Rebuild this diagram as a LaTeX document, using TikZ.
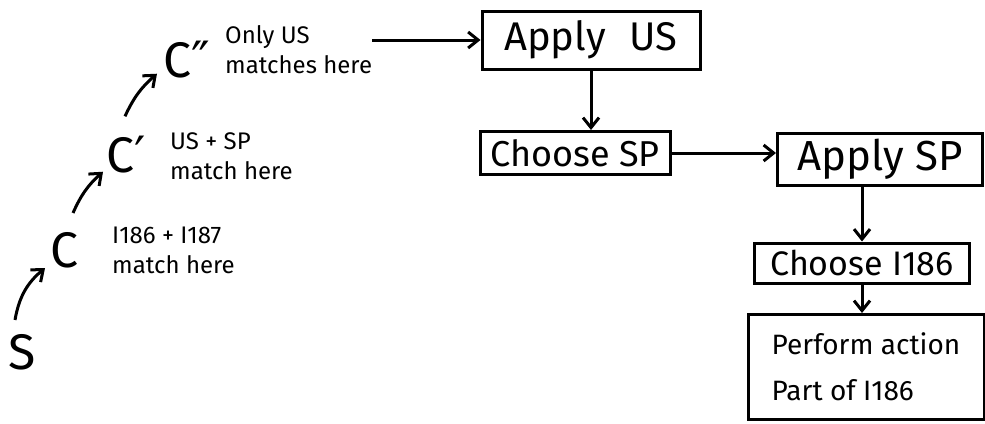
\documentclass[tikz,border=0pt]{standalone}
\usepackage{fontspec}
\setmainfont{Fira Sans}
\newfontfamily\primefont{DejaVu Sans}
\usetikzlibrary{positioning,arrows.meta,calc}
\tikzset{
  stepbox/.style={rectangle, draw=black, line width=3pt, fill=white, text=black,
                  align=center, inner sep=0pt},
  note/.style={align=left, anchor=west, inner sep=0pt,
               font=\fontsize{24}{30}\selectfont},
  letter/.style={inner sep=0pt, anchor=west, font=\fontsize{50}{50}\selectfont},
  flowarr/.style={-{Straight Barb[length=10pt,width=16pt]}, line width=3pt},
}

\begin{document}
\begin{tikzpicture}[x=1pt, y=-1pt]
\useasboundingbox (0,0) rectangle (985,423);
% the chain of states on the left
\node[letter] (s) at (8,352) {S};
\node[letter] (c) at (50,250) {C};
\node[letter] (cp) at (106,155) {C{\primefont ′}};
\node[letter] (cpp) at (163,60) {C{\primefont ″}};
\node[note] (cnote) at (112,250) {I186 + I187\\match here};
\node[note] (cpnote) at (170,156) {US + SP\\match here};
\node[note] (cppnote) at (225,50) {Only US\\matches here};
\draw[flowarr] ($(s.north west)+(7,-14)$) to[bend left=20] ($(c.south west)+(-5,0)$);
\draw[flowarr] ($(c.north west)+(23,-19)$) to[bend left=12] ($(cp.south west)+(-3,-2)$);
\draw[flowarr] ($(cp.north west)+(19,-20)$) to[bend left=12] ($(cpp.south west)+(-6,-5)$);
% the boxes on the right
\node[stepbox, minimum width=218pt, minimum height=58pt,
      font=\fontsize{40}{40}\selectfont] (applyus) at (591,40) {Apply\hspace{0.6em}US};
\node[stepbox, minimum width=190pt, minimum height=43pt,
      font=\fontsize{36}{36}\selectfont] (choosesp) at (575,153) {Choose SP};
\node[stepbox, minimum width=205pt, minimum height=52pt,
      font=\fontsize{42}{42}\selectfont] (applysp) at (880,159) {Apply SP};
\node[stepbox, minimum width=215pt, minimum height=40pt,
      font=\fontsize{34}{34}\selectfont] (choosei) at (862,263) {Choose I186};
\node[stepbox, minimum width=236pt, minimum height=105pt, align=left,
      font=\fontsize{28}{46}\selectfont] (perform) at (866,367) {Perform action\\Part of I186};
\draw[flowarr] (cppnote.east |- applyus) -- (applyus.west);
\draw[flowarr] (applyus.south) -- (applyus.south |- choosesp.north);
\draw[flowarr] (choosesp.east) -- (choosesp.east -| applysp.west);
\draw[flowarr] (applysp.south -| choosei) -- (choosei.north);
\draw[flowarr] (choosei.south) -- (choosei.south |- perform.north);
\end{tikzpicture}
\end{document}
